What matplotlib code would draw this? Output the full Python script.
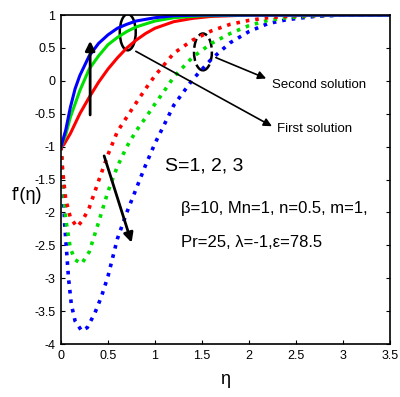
import numpy as np
import matplotlib
matplotlib.use("Agg")
import matplotlib.pyplot as plt
from matplotlib.patches import Ellipse

plt.rcParams['font.family'] = ['Liberation Sans', 'DejaVu Sans']

# first solutions (solid), S = 1, 2, 3
eta_r1 = [0, 0.03, 0.1, 0.2, 0.3, 0.4, 0.5, 0.6, 0.7, 0.8, 0.9, 1.0, 1.2, 1.4, 1.6, 2.0, 2.5, 3.5]
f_r1 = [-1, -0.97, -0.8, -0.5, -0.25, -0.02, 0.18, 0.35, 0.5, 0.62, 0.72, 0.8, 0.9, 0.95, 0.98, 1.0, 1.0, 1.0]
eta_g1 = [0, 0.05, 0.1, 0.2, 0.3, 0.4, 0.5, 0.6, 0.7, 0.8, 1.0, 1.2, 1.5, 2.0, 2.5, 3.5]
f_g1 = [-1, -0.82, -0.55, -0.15, 0.18, 0.38, 0.55, 0.66, 0.75, 0.82, 0.91, 0.96, 0.99, 1.0, 1.0, 1.0]
eta_b1 = [0, 0.05, 0.1, 0.15, 0.2, 0.3, 0.4, 0.5, 0.6, 0.7, 0.8, 1.0, 1.2, 1.5, 2.0, 3.5]
f_b1 = [-1, -0.75, -0.4, -0.12, 0.08, 0.38, 0.57, 0.7, 0.8, 0.86, 0.91, 0.96, 0.99, 1.0, 1.0, 1.0]

# second solutions (dotted)
eta_r2 = [0, 0.02, 0.05, 0.1, 0.17, 0.23, 0.3, 0.4, 0.5, 0.6, 0.75, 0.9, 1.0, 1.2, 1.4, 1.6, 1.8, 2.0, 2.2, 2.5, 3.0, 3.5]
f_r2 = [-1, -1.4, -1.8, -2.08, -2.22, -2.12, -1.93, -1.52, -1.12, -0.77, -0.44, -0.12, 0.08, 0.42, 0.62, 0.76, 0.86, 0.92, 0.96, 0.99, 1.0, 1.0]
eta_g2 = [0, 0.02, 0.05, 0.1, 0.15, 0.22, 0.3, 0.4, 0.5, 0.6, 0.7, 0.8, 0.9, 1.0, 1.1, 1.2, 1.4, 1.6, 1.8, 2.0, 2.2, 2.4, 2.7, 3.0, 3.5]
f_g2 = [-1, -1.5, -2.1, -2.55, -2.72, -2.78, -2.6, -2.15, -1.68, -1.3, -1.0, -0.76, -0.56, -0.35, -0.15, 0.06, 0.36, 0.57, 0.72, 0.84, 0.92, 0.96, 0.99, 1.0, 1.0]
eta_b2 = [0, 0.02, 0.04, 0.06, 0.08, 0.11, 0.15, 0.22, 0.28, 0.36, 0.43, 0.5, 0.6, 0.7, 0.8, 0.9, 1.0, 1.2, 1.4, 1.6, 1.8, 2.0, 2.2, 2.4, 2.7, 3.0, 3.5]
f_b2 = [-1, -1.6, -2.2, -2.6, -3.0, -3.4, -3.65, -3.8, -3.75, -3.53, -3.28, -2.97, -2.4, -2.0, -1.64, -1.28, -0.95, -0.37, 0.02, 0.33, 0.58, 0.75, 0.87, 0.93, 0.98, 1.0, 1.0]

xticks = [0, 0.5, 1, 1.5, 2, 2.5, 3, 3.5]
yticks = [1, 0.5, 0, -0.5, -1, -1.5, -2, -2.5, -3, -3.5, -4]

fig = plt.figure(figsize=(4, 3.97), dpi=100)
ax = fig.add_axes([0.1525, 0.1335, 0.8225, 0.8285])

ax.plot(eta_b2, f_b2, color='blue', ls=':', lw=2.6)
ax.plot(eta_g2, f_g2, color='#00e000', ls=':', lw=2.6)
ax.plot(eta_r2, f_r2, color='red', ls=':', lw=2.6)
ax.plot(eta_r1, f_r1, color='red', lw=2.2)
ax.plot(eta_g1, f_g1, color='#00e000', lw=2.2)
ax.plot(eta_b1, f_b1, color='blue', lw=2.2)

ax.set_xlim(0, 3.5)
ax.set_ylim(-4, 1)
ax.set_xticks(xticks)
ax.set_xticklabels([('%g' % v) for v in xticks])
ax.set_yticks(yticks)
ax.set_yticklabels([('%g' % v) for v in yticks])
ax.tick_params(direction='in', length=3, labelsize=9, right=True, top=False, pad=4)
for s in ax.spines.values():
    s.set_linewidth(1.2)

# ellipses
ax.add_patch(Ellipse((0.71, 0.74), 0.17, 0.55, fill=False, ec='black', lw=1.8))
ax.add_patch(Ellipse((1.51, 0.44), 0.19, 0.56, fill=False, ec='black', lw=1.8, ls='--'))

# arrows
ax.annotate('', xy=(2.27, -0.71), xytext=(0.77, 0.47),
            arrowprops=dict(arrowstyle='-|>', color='black', lw=1.2, mutation_scale=12))
ax.annotate('', xy=(2.21, 0.02), xytext=(1.62, 0.37),
            arrowprops=dict(arrowstyle='-|>', color='black', lw=1.2, mutation_scale=12))
ax.annotate('', xy=(0.31, 0.65), xytext=(0.31, -0.56),
            arrowprops=dict(arrowstyle='-|>', color='black', lw=2, mutation_scale=14))
ax.annotate('', xy=(0.76, -2.5), xytext=(0.45, -1.1),
            arrowprops=dict(arrowstyle='-|>', color='black', lw=2, mutation_scale=14))

ax.text(2.24, -0.06, 'Second solution', fontsize=9.5, va='center', ha='left')
ax.text(2.30, -0.73, 'First solution', fontsize=9.5, va='center', ha='left')
ax.text(1.11, -1.30, 'S=1, 2, 3', fontsize=14, va='center', ha='left')
ax.text(1.28, -1.94, 'β=10, Mn=1, n=0.5, m=1,', fontsize=12, va='center', ha='left')
ax.text(1.28, -2.46, 'Pr=25, λ=-1,ε=78.5', fontsize=12, va='center', ha='left')

fig.text(0.03, 1 - 196 / 397, "f'(η)", fontsize=13, va='center', ha='left')
fig.text(225 / 400, 1 - 380 / 397, 'η', fontsize=13, va='center', ha='center')

fig.savefig('out.png', dpi=100)
